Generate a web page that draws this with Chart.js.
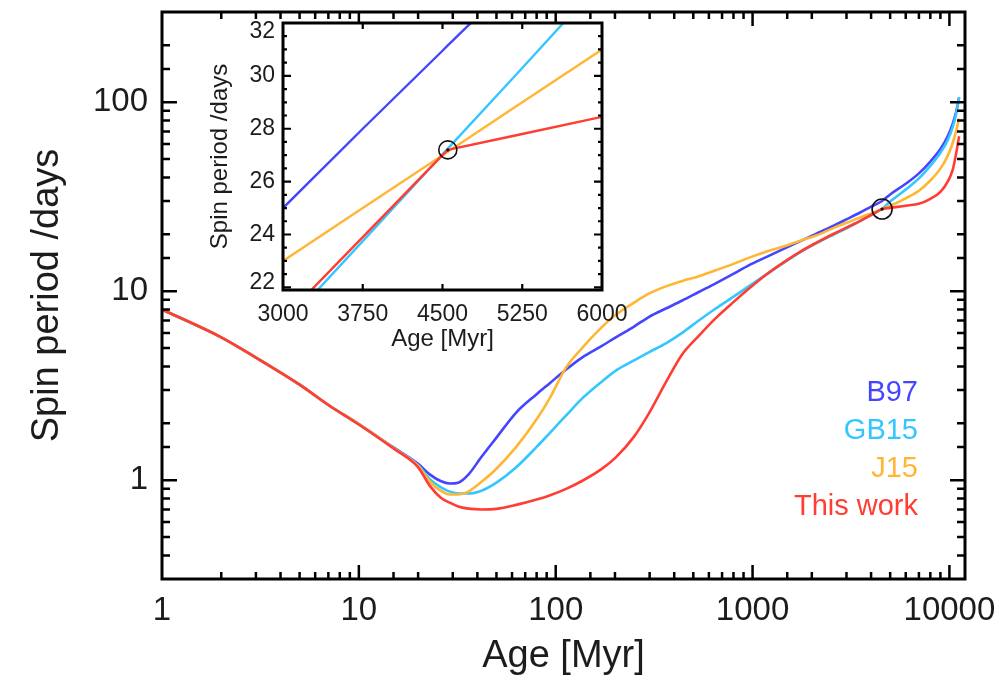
<!DOCTYPE html>
<html lang="en">
<head>
<meta charset="UTF-8">
<title>Spin period evolution</title>
<script src="https://cdn.jsdelivr.net/npm/chart.js"></script>
<style>
  body { margin: 0; background: #fff; }
  #wrap { position: relative; width: 1007px; height: 678px; }
  #main { position: absolute; left: 0; top: 0; width: 1007px; height: 678px; }
  #inset { position: absolute; left: 190px; top: 0; width: 450px; height: 360px; }
</style>
</head>
<body>
<div id="wrap">
  <canvas id="main" width="1007" height="678"></canvas>
  <canvas id="inset" width="450" height="360"></canvas>
</div>
<script>
// ---- main panel: spin period vs age (log-log) ----
const ageMyr = [1, 2, 3, 5, 7, 10, 15, 20, 23, 26, 29, 32, 36, 42, 50, 63, 80, 93, 113, 136,
  170, 202, 250, 297, 363, 437, 533, 650, 794, 956, 1180, 1450, 1750, 2100, 2600, 3000,
  3500, 4000, 4550, 5000, 6000, 7000, 8000, 9000, 9800, 10400, 10800, 11200];

const periodB97 = [8.0, 5.7, 4.45, 3.2, 2.5, 1.98, 1.49, 1.22, 1.07, 0.99, 0.96, 0.97, 1.07, 1.33, 1.68,
  2.28, 2.85, 3.25, 3.85, 4.45, 5.1, 5.7, 6.5, 7.3, 8.1, 8.9, 9.9, 11.0, 12.3, 13.7, 15.2, 16.8, 18.4,
  20.1, 22.3, 24.0, 26.0, 28.0, 30.0, 32.5, 37.0, 42.0, 48.5, 56.5, 66, 77, 88, 106];
const periodGB15 = [8.0, 5.7, 4.45, 3.2, 2.5, 1.98, 1.48, 1.2, 1.01, 0.92, 0.87, 0.85, 0.85, 0.88, 0.97,
  1.17, 1.5, 1.77, 2.2, 2.7, 3.3, 3.8, 4.3, 4.75, 5.3, 6.0, 7.0, 8.1, 9.3, 10.6, 12.3, 14.2, 16.1,
  17.9, 20.0, 21.5, 23.4, 25.3, 27.3, 29.8, 34.5, 39.5, 46.0, 54.0, 63, 74, 86, 106];
const periodJ15 = [8.0, 5.7, 4.45, 3.2, 2.5, 1.98, 1.48, 1.19, 0.98, 0.88, 0.84, 0.84, 0.87, 0.98, 1.15,
  1.5, 2.1, 2.7, 3.95, 5.0, 6.4, 7.5, 8.7, 9.7, 10.6, 11.3, 12.0, 12.9, 13.9, 15.0, 16.2, 17.3, 18.5,
  19.7, 21.7, 23.0, 24.5, 25.8, 27.1, 28.3, 31.0, 34.0, 38.5, 44.5, 52, 61, 70, 82];
const periodThisWork = [8.0, 5.7, 4.45, 3.2, 2.5, 1.97, 1.47, 1.17, 0.93, 0.81, 0.76, 0.725, 0.707, 0.70, 0.705,
  0.74, 0.79, 0.83, 0.9, 0.99, 1.14, 1.32, 1.7, 2.25, 3.3, 4.6, 5.8, 7.2, 8.7, 10.3, 12.3, 14.3, 16.2,
  18.0, 20.2, 21.7, 23.5, 25.3, 27.2, 27.6, 28.3, 29.0, 30.8, 33.5, 38, 44, 53, 66];

const modelNames = ['B97', 'GB15', 'J15', 'This work'];
const modelColors = ['#4545ff', '#35c6ff', '#ffb634', '#ff3d33'];

// present-day Sun
const sunAge = [4550];
const sunPeriod = [27.2];

// ---- inset: zoom around the solar age (linear axes) ----
const insetAge = [3000, 3750, 4500, 4550, 5250, 6000];
const insetB97 = [25.0, 28.0, 30.95, 31.15, 33.9, 36.9];
const insetGB15 = [20.48, 23.75, 27.03, 27.25, 30.3, 33.6];
const insetJ15 = [23.0, 25.0, 27.0, 27.13, 29.0, 31.0];
const insetThisWork = [20.8, 23.9, 27.0, 27.2, 27.8, 28.45];
const insetAgeTicks = [3000, 3750, 4500, 5250, 6000];
const insetPeriodTicks = [22, 24, 26, 28, 30, 32];

const FONT = '"Liberation Sans", Arial, Helvetica, sans-serif';
const INK = '#1c1c1c';

function isDecade(v) {
  const l = Math.log10(v);
  return Math.abs(l - Math.round(l)) < 1e-9;
}

function toPoints(xs, ys) {
  return xs.map((x, i) => ({ x: x, y: ys[i] }));
}

// keep the plot box where the layout padding puts it
function noLabelPadding(s) {
  s.paddingTop = 0; s.paddingBottom = 0;
  s.paddingLeft = 0; s.paddingRight = 0;
}

function sunDatasets(r) {
  return [
    { type: 'scatter', data: toPoints(sunAge, sunPeriod), pointRadius: r, pointBorderWidth: 1.6,
      pointBorderColor: '#111', pointBackgroundColor: 'rgba(0,0,0,0)', showLine: false, order: -2 },
    { type: 'scatter', data: toPoints(sunAge, sunPeriod), pointRadius: 1.6, pointBorderWidth: 0,
      pointBackgroundColor: '#111', showLine: false, order: -1 }
  ];
}

// inward tick marks on all four sides plus the box
const logFrame = {
  id: 'logFrame',
  afterDraw(chart) {
    const { ctx, chartArea: a, scales: { x, y } } = chart;
    ctx.save();
    ctx.strokeStyle = '#000';
    ctx.lineWidth = 2.5;
    ctx.beginPath();
    x.ticks.forEach(t => {
      const px = x.getPixelForValue(t.value);
      if (px <= a.left + 1 || px >= a.right - 1) return;
      const len = isDecade(t.value) ? 14 : 7;
      ctx.moveTo(px, a.bottom); ctx.lineTo(px, a.bottom - len);
      ctx.moveTo(px, a.top); ctx.lineTo(px, a.top + len);
    });
    y.ticks.forEach(t => {
      const py = y.getPixelForValue(t.value);
      if (py <= a.top + 1 || py >= a.bottom - 1) return;
      const len = isDecade(t.value) ? 15 : 8;
      ctx.moveTo(a.left, py); ctx.lineTo(a.left + len, py);
      ctx.moveTo(a.right, py); ctx.lineTo(a.right - len, py);
    });
    ctx.stroke();
    ctx.lineWidth = 3;
    ctx.strokeRect(a.left, a.top, a.right - a.left, a.bottom - a.top);

    // axis titles
    ctx.fillStyle = INK;
    ctx.font = '38px ' + FONT;
    ctx.textAlign = 'center';
    ctx.textBaseline = 'middle';
    ctx.fillText('Age [Myr]', (a.left + a.right) / 2, 657);
    ctx.translate(48, (a.top + a.bottom) / 2);
    ctx.rotate(-Math.PI / 2);
    ctx.fillText('Spin period /days', 0, 0);
    ctx.restore();

    // model labels
    ctx.save();
    ctx.font = '29px ' + FONT;
    ctx.textAlign = 'right';
    ctx.textBaseline = 'middle';
    modelNames.forEach((name, i) => {
      ctx.fillStyle = modelColors[i];
      ctx.fillText(name, 918, 393 + i * 38);
    });
    ctx.restore();
  }
};

const mainSeries = [periodB97, periodGB15, periodJ15, periodThisWork];

new Chart(document.getElementById('main'), {
  type: 'line',
  data: {
    datasets: mainSeries.map((p, i) => ({
      label: modelNames[i],
      data: toPoints(ageMyr, p),
      borderColor: modelColors[i],
      borderWidth: 2.6,
      pointRadius: 0,
      cubicInterpolationMode: 'monotone',
      fill: false,
      order: mainSeries.length - i   // "This work" on top
    })).concat(sunDatasets(10))
  },
  options: {
    responsive: false,
    animation: false,
    layout: { padding: { top: 12, right: 42, left: 0, bottom: 0 } },
    plugins: { legend: { display: false }, tooltip: { enabled: false } },
    scales: {
      x: {
        type: 'logarithmic', min: 1, max: 12000,
        grid: { display: false, drawTicks: false }, border: { display: false },
        ticks: {
          autoSkip: false, maxRotation: 0, padding: 12, color: INK,
          font: { family: FONT, size: 33 },
          callback: v => isDecade(v) ? String(Math.round(v)) : ''
        },
        afterFit: s => { s.height = 99; noLabelPadding(s); }
      },
      y: {
        type: 'logarithmic', min: 0.3, max: 300,
        grid: { display: false, drawTicks: false }, border: { display: false },
        ticks: {
          autoSkip: false, padding: 14, color: INK,
          font: { family: FONT, size: 33 },
          callback: v => isDecade(v) ? String(Math.round(v)) : ''
        },
        afterFit: s => { s.width = 162; noLabelPadding(s); }
      }
    }
  },
  plugins: [logFrame]
});

// inset frame: white plot area, box, major and minor ticks, labels, titles
const linFrame = {
  id: 'linFrame',
  beforeDraw(chart) {
    const { ctx, chartArea: a } = chart;
    ctx.save();
    ctx.fillStyle = '#fff';
    ctx.fillRect(a.left, a.top, a.right - a.left, a.bottom - a.top);
    ctx.restore();
  },
  afterDraw(chart) {
    const { ctx, chartArea: a, scales: { x, y } } = chart;
    ctx.save();
    ctx.strokeStyle = '#000';
    ctx.lineWidth = 2.2;
    ctx.beginPath();
    insetAgeTicks.forEach(v => {
      const px = x.getPixelForValue(v);
      if (px <= a.left + 1 || px >= a.right - 1) return;
      ctx.moveTo(px, a.bottom); ctx.lineTo(px, a.bottom - 6);
      ctx.moveTo(px, a.top); ctx.lineTo(px, a.top + 6);
    });
    for (let i = 0; i < insetPeriodTicks.length; i++) {
      const v0 = insetPeriodTicks[i];
      const step = i + 1 < insetPeriodTicks.length ? insetPeriodTicks[i + 1] - v0 : 0;
      for (let k = 0; k < 4; k++) {
        if (k > 0 && !step) break;
        const py = y.getPixelForValue(v0 + k * step / 4);
        if (py <= a.top + 1 || py >= a.bottom - 1) continue;
        const len = k === 0 ? 8 : 4;
        ctx.moveTo(a.left, py); ctx.lineTo(a.left + len, py);
        ctx.moveTo(a.right, py); ctx.lineTo(a.right - len, py);
      }
    }
    ctx.stroke();
    ctx.lineWidth = 3;
    ctx.strokeRect(a.left, a.top, a.right - a.left, a.bottom - a.top);

    // y labels, the end ones nudged inside the box height
    ctx.fillStyle = INK;
    ctx.font = '23px ' + FONT;
    ctx.textAlign = 'right';
    ctx.textBaseline = 'middle';
    insetPeriodTicks.forEach(v => {
      const py = Math.min(Math.max(y.getPixelForValue(v), a.top + 9), a.bottom - 7);
      ctx.fillText(String(v), a.left - 8, py);
    });

    ctx.font = '24px ' + FONT;
    ctx.textAlign = 'center';
    ctx.fillText('Age [Myr]', (a.left + a.right) / 2, 339);
    ctx.translate(30, (a.top + a.bottom) / 2);
    ctx.rotate(-Math.PI / 2);
    ctx.fillText('Spin period /days', 0, 0);
    ctx.restore();
  }
};

const insetSeries = [insetB97, insetGB15, insetJ15, insetThisWork];

new Chart(document.getElementById('inset'), {
  type: 'line',
  data: {
    datasets: insetSeries.map((p, i) => ({
      label: modelNames[i],
      data: toPoints(insetAge, p),
      borderColor: modelColors[i],
      borderWidth: 2.4,
      pointRadius: 0,
      tension: 0,
      clip: 0,
      fill: false,
      order: insetSeries.length - i
    })).concat(sunDatasets(9))
  },
  options: {
    responsive: false,
    animation: false,
    layout: { padding: { top: 23, right: 38, left: 0, bottom: 0 } },
    plugins: { legend: { display: false }, tooltip: { enabled: false } },
    scales: {
      x: {
        type: 'linear', min: 3000, max: 6000,
        afterBuildTicks: s => { s.ticks = insetAgeTicks.map(v => ({ value: v })); },
        grid: { display: false, drawTicks: false }, border: { display: false },
        ticks: {
          autoSkip: false, maxRotation: 0, padding: 11, color: INK,
          font: { family: FONT, size: 23 },
          callback: v => String(v)
        },
        afterFit: s => { s.height = 70; noLabelPadding(s); }
      },
      y: {
        type: 'linear', min: 21.9, max: 32,
        afterBuildTicks: s => { s.ticks = insetPeriodTicks.map(v => ({ value: v })); },
        grid: { display: false, drawTicks: false }, border: { display: false },
        ticks: { display: false },
        afterFit: s => { s.width = 93; noLabelPadding(s); }
      }
    }
  },
  plugins: [linFrame]
});
</script>
</body>
</html>
